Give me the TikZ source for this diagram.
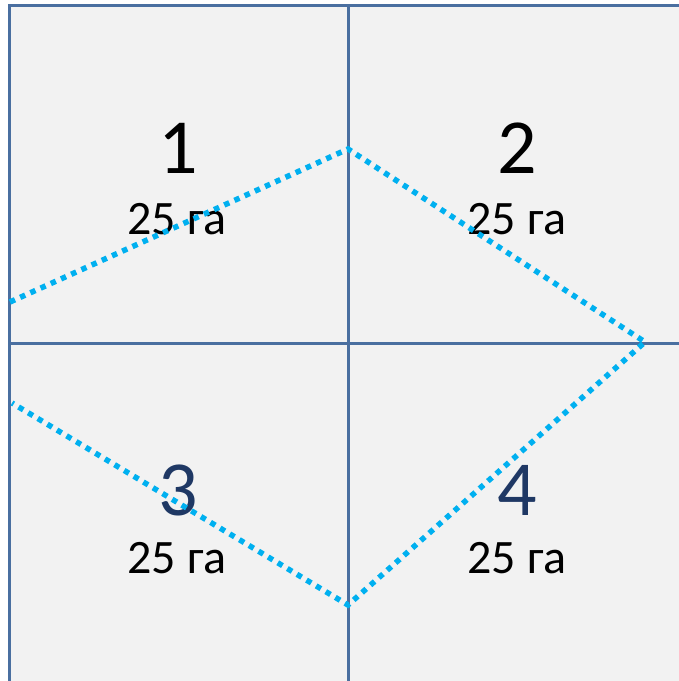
\documentclass[tikz,border=0pt]{standalone}
\usepackage{fontspec}
\setmainfont{Carlito}
\definecolor{gridc}{HTML}{4A6FA0}
\definecolor{cellc}{HTML}{F2F2F2}
\definecolor{dotc}{HTML}{00B0F0}
\definecolor{navy}{HTML}{1F3864}
\begin{document}
\begin{tikzpicture}[x=1pt,y=-1pt,
  bignum/.style={font=\fontsize{78}{78}\selectfont, inner sep=0pt, anchor=center},
  area/.style={font=\fontsize{48}{48}\selectfont, inner sep=0pt, anchor=center},
  gridline/.style={draw=gridc, line width=3pt},
  boundary/.style={draw=dotc, line width=5.5pt, dash pattern=on 5.5pt off 5.7pt}]
\useasboundingbox (0,0) rectangle (679,681);
\fill[white] (0,0) rectangle (679,681);
\begin{scope}
\clip (0,0) rectangle (679,681);
\fill[cellc] (9,5) rectangle (700,700);
\draw[gridline] (700,5) -- (9,5) -- (9,700);
\draw[gridline] (348,5) -- (348,700);
\draw[gridline] (9,343) -- (700,343);
\end{scope}
\node[bignum] (n1) at (178,148) {1};
\node[area] (a1) at (177,219) {25 га};
\node[bignum] (n2) at (517,148) {2};
\node[area] (a2) at (517,219) {25 га};
\node[bignum, text=navy] (n3) at (178,490) {3};
\node[area] (a3) at (177,558) {25 га};
\node[bignum, text=navy] (n4) at (517,490) {4};
\node[area] (a4) at (517,558) {25 га};
\coordinate (p1) at (10,302);
\coordinate (p2) at (348,149);
\coordinate (p3) at (645,342);
\coordinate (p4) at (348,605);
\coordinate (p5) at (12,403);
\draw[boundary] (p1) -- (p2) -- (p3) -- (p4) -- (p5);
\end{tikzpicture}
\end{document}
